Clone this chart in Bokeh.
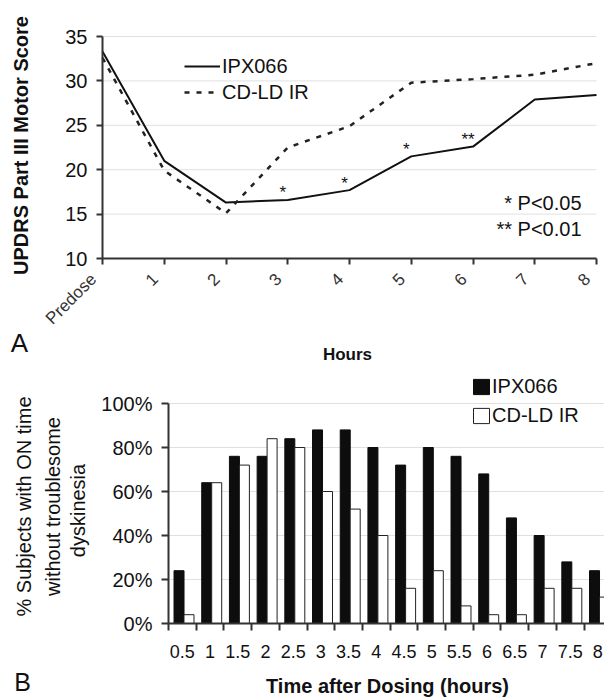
import math
from bokeh.plotting import figure
from bokeh.models import (Range1d, FixedTicker, Label, Legend, LegendItem,
                          ColumnDataSource, LinearAxis)
from bokeh.embed import file_html
from bokeh.resources import INLINE
from bokeh.core.properties import value

FONT = "Liberation Sans"

# ---------------- data ----------------
hour_labels = ["Predose", "1", "2", "3", "4", "5", "6", "7", "8"]
hour_pos = [0, 1, 2, 3, 4, 5, 6, 7, 8]
ipx066_updrs = [33.3, 21.0, 16.3, 16.6, 17.7, 21.5, 22.6, 27.9, 28.4]
cdld_updrs = [32.6, 19.9, 15.1, 22.5, 24.9, 29.8, 30.2, 30.7, 32.0]
updrs_ticks = [10, 15, 20, 25, 30, 35]
sig_hours = [3, 4, 5, 6]
sig_marks = ["*", "*", "*", "**"]

dose_times = ["0.5", "1", "1.5", "2", "2.5", "3", "3.5", "4", "4.5",
              "5", "5.5", "6", "6.5", "7", "7.5", "8"]
ipx066_pct = [24, 64, 76, 76, 84, 88, 88, 80, 72, 80, 76, 68, 48, 40, 28, 24]
cdld_pct = [4, 64, 72, 84, 80, 60, 52, 40, 16, 24, 8, 4, 4, 16, 16, 12]
pct_ticks = [0, 20, 40, 60, 80, 100]

W = 604
AX_COLOR = "#333333"
GRID_COLOR = "#e0e0e0"
TXT = "#111111"


def style_axis(ax):
    ax.axis_line_color = AX_COLOR
    ax.axis_line_width = 2
    ax.major_tick_line_color = AX_COLOR
    ax.major_tick_line_width = 2
    ax.major_tick_in = 0
    ax.minor_tick_line_color = None
    ax.major_label_text_font = FONT
    ax.major_label_text_color = TXT


# ================= panel A =================
H1 = 364
L1, R1, T1, B1 = 102, 596, 36, 258          # chart area (px)
pxA = (R1 - L1) / 8.0
pyA = (B1 - T1) / 25.0
xA0 = -L1 / pxA
yA1 = 35 + T1 / pyA

pA = figure(width=W, height=H1, output_backend="svg", toolbar_location=None,
            x_range=Range1d(xA0, xA0 + W / pxA),
            y_range=Range1d(yA1 - H1 / pyA, yA1), title=None,
            x_axis_location=None, y_axis_location=None,
            min_border_left=0, min_border_right=0,
            min_border_top=0, min_border_bottom=0)
pA.outline_line_color = None
pA.grid.visible = False

pA.segment(x0=[hour_pos[0]] * 5, x1=[hour_pos[-1]] * 5, y0=updrs_ticks[1:],
           y1=updrs_ticks[1:], line_color=GRID_COLOR, line_width=1,
           level="underlay")

xaxA = LinearAxis(fixed_location=updrs_ticks[0], bounds=(hour_pos[0], hour_pos[-1]),
                  ticker=FixedTicker(ticks=hour_pos), major_label_text_font_size="1px",
                  major_label_text_alpha=0)
style_axis(xaxA)
xaxA.major_tick_out = 6
pA.add_layout(xaxA, "below")

lab_shift = 9 / pxA
lab_pos = [h - lab_shift for h in hour_pos]
xlabA = LinearAxis(fixed_location=updrs_ticks[0], ticker=FixedTicker(ticks=lab_pos),
                   major_label_overrides={p: l for p, l in zip(lab_pos, hour_labels)},
                   major_label_orientation=math.pi / 4)
style_axis(xlabA)
xlabA.axis_line_color = None
xlabA.major_tick_line_color = None
xlabA.major_tick_out = 6
xlabA.major_label_standoff = 12
xlabA.major_label_text_font_size = "17px"
xlabA.major_label_text_color = "#333333"
pA.add_layout(xlabA, "below")

yaxA = LinearAxis(fixed_location=hour_pos[0], bounds=(updrs_ticks[0], updrs_ticks[-1]),
                  ticker=FixedTicker(ticks=updrs_ticks))
style_axis(yaxA)
yaxA.major_tick_out = 6
yaxA.major_label_standoff = 9
yaxA.major_label_text_font_size = "20px"
pA.add_layout(yaxA, "left")

srcA = ColumnDataSource(dict(x=hour_pos, ipx=ipx066_updrs, cd=cdld_updrs))
r_ipx = pA.line("x", "ipx", source=srcA, line_color="#111111", line_width=2)
r_cd = pA.line("x", "cd", source=srcA, line_color="#222222", line_width=2.5,
               line_dash="5 7")

sig_y = [ipx066_updrs[hour_pos.index(h)] + 0.8 for h in sig_hours]
pA.text(x=sig_hours, y=sig_y, text=sig_marks, text_font=value(FONT),
        text_font_size="17px", text_align="center", text_baseline="middle",
        text_color=TXT, x_offset=-5)

legA = Legend(items=[LegendItem(label="IPX066", renderers=[r_ipx]),
                     LegendItem(label="CD-LD IR", renderers=[r_cd])],
              location=(184, H1 - 104),
              orientation="vertical", padding=0, margin=0, spacing=2,
              glyph_width=36, glyph_height=24, label_height=24,
              label_standoff=2, border_line_color=None,
              background_fill_alpha=0, label_text_font=FONT,
              label_text_font_size="20px", label_text_color=TXT)
pA.add_layout(legA, "center")


def labA(fx, fy, text, size, align="center", bold=False, angle=0):
    pA.add_layout(Label(x=xA0 + fx / pxA, y=yA1 - fy / pyA, text=text,
                        angle=angle, text_font=FONT, text_font_size=size,
                        text_font_style="bold" if bold else "normal",
                        text_align=align, text_baseline="middle",
                        text_color=TXT))


labA(20, 145, "UPDRS Part III Motor Score", "20px", bold=True, angle=math.pi / 2)
labA(347, 354, "Hours", "17px", bold=True)
labA(19, 342, "A", "26px")
labA(581, 202, "* P<0.05", "20px", align="right")
labA(581, 228, "** P<0.01", "20px", align="right")

# ================= panel B =================
H2 = 334
OFF = H1
L2, T2, B2 = 168, 403 - OFF, 623 - OFF
STEP = 27.7
pyB = (B2 - T2) / 100.0
xB0 = -L2 / STEP
yB1 = 100 + T2 / pyB
n = len(dose_times)
centers = [i + 0.5 for i in range(n)]
xB_end = xB0 + W / STEP

pB = figure(width=W, height=H2, output_backend="svg", toolbar_location=None,
            x_range=Range1d(xB0, xB_end), y_range=Range1d(yB1 - H2 / pyB, yB1),
            title=None, x_axis_location=None, y_axis_location=None,
            min_border_left=0, min_border_right=0,
            min_border_top=0, min_border_bottom=0)
pB.outline_line_color = None
pB.grid.visible = False

pB.segment(x0=[0] * 5, x1=[xB_end] * 5, y0=pct_ticks[1:], y1=pct_ticks[1:],
           line_color=GRID_COLOR, line_width=1, level="underlay")

xaxB = LinearAxis(fixed_location=0, bounds=(0, xB_end),
                  ticker=FixedTicker(ticks=centers, minor_ticks=list(range(n + 1))),
                  major_label_overrides={c: t for c, t in zip(centers, dose_times)})
style_axis(xaxB)
xaxB.major_tick_line_color = None
xaxB.major_tick_out = 7
xaxB.minor_tick_line_color = AX_COLOR
xaxB.minor_tick_line_width = 2
xaxB.minor_tick_out = 7
xaxB.minor_tick_in = 0
xaxB.major_label_standoff = 14
xaxB.major_label_text_font_size = "18px"
pB.add_layout(xaxB, "below")

yaxB = LinearAxis(fixed_location=0, bounds=(0, 100), ticker=FixedTicker(ticks=pct_ticks),
                  major_label_overrides={v: f"{v}%" for v in pct_ticks})
style_axis(yaxB)
yaxB.major_tick_out = 7
yaxB.major_label_standoff = 9
yaxB.major_label_text_font_size = "20px"
pB.add_layout(yaxB, "left")

srcB = ColumnDataSource(dict(xb=[c - 0.12 for c in centers],
                             xw=[c + 0.24 for c in centers],
                             ipx=ipx066_pct, cd=cdld_pct))
bw = 10 / STEP
r_b = pB.vbar(x="xb", top="ipx", width=bw, source=srcB, fill_color="#0d0d0d",
              line_color="#0d0d0d", line_width=1)
r_w = pB.vbar(x="xw", top="cd", width=bw, source=srcB, fill_color="white",
              line_color="#222222", line_width=1)

legB = Legend(items=[LegendItem(label="IPX066", renderers=[r_b]),
                     LegendItem(label="CD-LD IR", renderers=[r_w])],
              location=(471, H2 - 65 + (OFF - 362)),
              orientation="vertical", padding=0, margin=0, spacing=6,
              glyph_width=20, glyph_height=19, label_height=23,
              label_standoff=1, border_line_color=None,
              background_fill_alpha=0, label_text_font=FONT,
              label_text_font_size="20px", label_text_color=TXT)
pB.add_layout(legB, "center")


def labB(fx, fy, text, size, bold=False, angle=0):
    pB.add_layout(Label(x=xB0 + fx / STEP, y=yB1 - fy / pyB, text=text,
                        angle=angle, text_font=FONT, text_font_size=size,
                        text_font_style="bold" if bold else "normal",
                        text_align="center", text_baseline="middle",
                        text_color=TXT))


labB(23, 506 - OFF, "% Subjects with ON time", "20px", angle=math.pi / 2)
labB(52, 506 - OFF, "without troublesome", "20px", angle=math.pi / 2)
labB(77, 510 - OFF, "dyskinesia", "20px", angle=math.pi / 2)
labB(387, 685 - OFF, "Time after Dosing (hours)", "20px", bold=True)
labB(22, 681 - OFF, "B", "25px")

open("out.html", "w").write(file_html([pA, pB], INLINE))
